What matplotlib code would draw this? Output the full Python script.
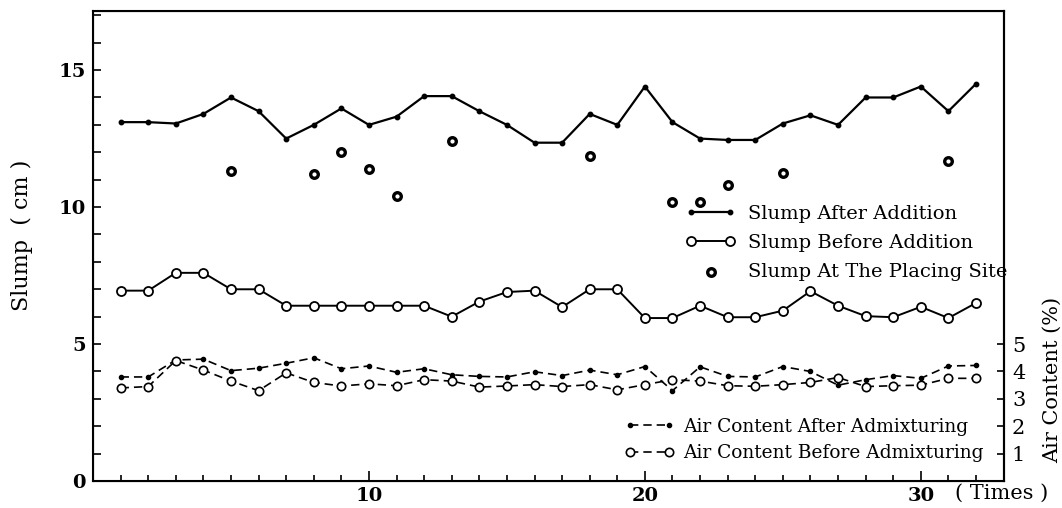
import matplotlib
matplotlib.use("Agg")
import matplotlib.pyplot as plt
from matplotlib.ticker import MultipleLocator, FixedLocator

times = list(range(1, 33))

slump_after = [13.1, 13.1, 13.05, 13.4, 14.0, 13.5, 12.5, 13.0, 13.6, 13.0, 13.3,
               14.05, 14.05, 13.5, 13.0, 12.35, 12.35, 13.4, 13.0, 14.4, 13.1, 12.5,
               12.45, 12.45, 13.05, 13.35, 13.0, 14.0, 14.0, 14.4, 13.5, 14.5]

slump_before = [6.95, 6.95, 7.6, 7.6, 7.0, 7.0, 6.4, 6.4, 6.4, 6.4, 6.4,
                6.4, 6.0, 6.55, 6.9, 6.95, 6.35, 7.0, 7.0, 5.95, 5.95, 6.4,
                5.98, 5.98, 6.22, 6.93, 6.4, 6.02, 5.98, 6.36, 5.95, 6.5]

site_times = [5, 8, 9, 10, 11, 13, 18, 21, 22, 23, 25, 31]
slump_site = [11.3, 11.2, 12.0, 11.4, 10.4, 12.4, 11.85, 10.2, 10.2, 10.8, 11.25, 11.7]

air_after = [3.8, 3.8, 4.42, 4.45, 4.03, 4.12, 4.3, 4.5, 4.1, 4.2, 3.97,
             4.1, 3.88, 3.82, 3.8, 3.99, 3.85, 4.05, 3.88, 4.18, 3.3, 4.17,
             3.82, 3.8, 4.18, 4.0, 3.5, 3.7, 3.85, 3.75, 4.2, 4.22]

air_before = [3.4, 3.45, 4.4, 4.05, 3.65, 3.3, 3.95, 3.6, 3.47, 3.55, 3.48,
              3.7, 3.65, 3.43, 3.47, 3.52, 3.45, 3.52, 3.33, 3.52, 3.7, 3.65,
              3.48, 3.46, 3.52, 3.6, 3.78, 3.45, 3.48, 3.5, 3.75, 3.75]

left_ticks = [0, 5, 10, 15]
bottom_ticks = [10, 20, 30]
right_ticks = [1, 2, 3, 4, 5]

SERIF = "DejaVu Serif"

fig = plt.figure(figsize=(10.62, 5.08), dpi=100)
ax = fig.add_axes([0.0876, 0.053, 0.8574, 0.925])

ax.set_xlim(0, 33)
ax.set_ylim(0, 17.15)

l1, = ax.plot(times, slump_after, color="black", lw=1.6, marker="o", ms=3.2,
              mfc="black", mec="black", label="Slump After Addition")
l2, = ax.plot(times, slump_before, color="black", lw=1.4, marker="o", ms=6.5,
              mfc="white", mec="black", mew=1.3, label="Slump Before Addition")
s3 = ax.scatter(site_times, slump_site, s=30, facecolor="white", edgecolor="black",
                linewidths=2.4, zorder=3, label="Slump At The Placing Site")
l4, = ax.plot(times, air_after, color="black", lw=1.2, ls=(0, (5, 3)), marker="o",
              ms=3.0, mfc="black", mec="black", label="Air Content After Admixturing")
l5, = ax.plot(times, air_before, color="black", lw=1.2, ls=(0, (5, 3)), marker="o",
              ms=6.0, mfc="white", mec="black", mew=1.2, label="Air Content Before Admixturing")

for sp in ax.spines.values():
    sp.set_linewidth(1.5)

ax.yaxis.set_major_locator(FixedLocator(left_ticks))
ax.yaxis.set_minor_locator(MultipleLocator(1))
ax.xaxis.set_major_locator(FixedLocator(bottom_ticks))
ax.xaxis.set_minor_locator(FixedLocator(times))
ax.tick_params(axis="both", which="both", direction="in", width=1.2)
ax.tick_params(axis="y", which="major", length=6, pad=5)
ax.tick_params(axis="y", which="minor", length=6)
ax.tick_params(axis="x", which="major", length=7, pad=4)
ax.tick_params(axis="x", which="minor", length=4)
ax.set_yticklabels([str(v) for v in left_ticks], fontfamily=SERIF, fontweight="bold", fontsize=14)
ax.set_xticklabels([str(v) for v in bottom_ticks], fontfamily=SERIF, fontweight="bold", fontsize=14)

ax.set_ylabel("Slump  ( cm )", fontfamily=SERIF, fontsize=16)
ax.yaxis.set_label_coords(-0.066, 0.523)

ax2 = ax.twinx()
ax2.set_ylim(0, 17.15)
ax2.yaxis.set_major_locator(FixedLocator(right_ticks))
ax2.tick_params(axis="y", direction="in", length=5, width=1.2, pad=6)
ax2.set_yticklabels([str(v) for v in right_ticks], fontfamily=SERIF, fontsize=15)
ax2.spines["right"].set_linewidth(1.5)
ax2.set_ylabel("Air Content (%)", fontfamily=SERIF, fontsize=15)
ax2.yaxis.set_label_coords(1.043, 0.215)

fig.text(0.987, 0.028, "( Times )", fontfamily=SERIF, fontsize=15, ha="right", va="center")

leg1 = ax.legend(handles=[l1, l2, s3], loc="upper left", bbox_to_anchor=(0.640, 0.609),
                 frameon=False, numpoints=2, scatterpoints=1, handlelength=2.6,
                 handletextpad=0.6, labelspacing=0.57, borderpad=0,
                 prop={"family": SERIF, "size": 14})
ax.add_artist(leg1)
leg2 = ax.legend(handles=[l4, l5], loc="upper left", bbox_to_anchor=(0.573, 0.155),
                 frameon=False, numpoints=2, handlelength=2.7, handletextpad=0.47,
                 labelspacing=0.46, borderpad=0,
                 prop={"family": SERIF, "size": 13.4})

fig.savefig("out.png", dpi=100)
